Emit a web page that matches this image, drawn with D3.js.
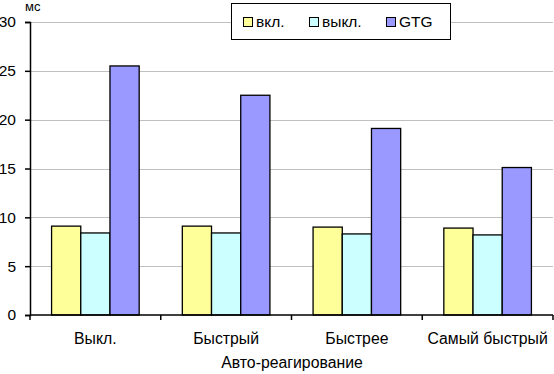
<!DOCTYPE html>
<html>
<head>
<meta charset="utf-8">
<script src="https://cdn.jsdelivr.net/npm/d3@7"></script>
<style>
  body { margin: 0; background: #fff; }
  text { font-family: "Liberation Sans", Arial, sans-serif; fill: #000; }
</style>
</head>
<body>
<div id="chart"></div>
<script>
// data
var categories = ["Выкл.", "Быстрый", "Быстрее", "Самый быстрый"];
var seriesNames = ["вкл.", "выкл.", "GTG"];
var vkl = [9.1, 9.1, 9.0, 8.9];
var vykl = [8.4, 8.4, 8.3, 8.2];
var gtg = [25.5, 22.5, 19.1, 15.1];
var yTicks = [0, 5, 10, 15, 20, 25, 30];
var colors = ["#ffff99", "#ccffff", "#9999ff"];

var svgWidth = 554, svgHeight = 374;
var margin = {top: 22, right: 1, bottom: 59, left: 30};
var width = svgWidth - margin.left - margin.right;
var height = svgHeight - margin.top - margin.bottom;

var svg = d3.select("#chart").append("svg").attr("width", svgWidth).attr("height", svgHeight);
var chartGroup = svg.append("g").attr("transform", `translate(${margin.left},${margin.top})`);

var x0 = d3.scaleBand().domain(categories).range([0, width]).padding(0);
var inner = x0.bandwidth() * 0.165;
var x1 = d3.scaleBand().domain(seriesNames).range([inner, x0.bandwidth() - inner]).padding(0);
var y = d3.scaleLinear().domain([0, 30]).range([height, 0]);

// gridlines
chartGroup.selectAll(".grid").data(yTicks.slice(1)).enter().append("line")
  .attr("x1", 0).attr("x2", width)
  .attr("y1", d => Math.round(y(d)) + 0.5).attr("y2", d => Math.round(y(d)) + 0.5)
  .attr("stroke", "#c0c0c0").attr("stroke-width", 1);

// bars
var rows = categories.map((c, i) => ({cat: c, vals: [vkl[i], vykl[i], gtg[i]]}));
var groups = chartGroup.selectAll(".grp").data(rows).enter().append("g")
  .attr("transform", d => `translate(${x0(d.cat)},0)`);
groups.selectAll("rect").data(d => d.vals.map((v, j) => ({name: seriesNames[j], v: v, j: j})))
  .enter().append("rect")
  .attr("x", d => x1(d.name))
  .attr("y", d => y(d.v))
  .attr("width", x1.bandwidth())
  .attr("height", d => height - y(d.v))
  .attr("fill", d => colors[d.j])
  .attr("stroke", "#000").attr("stroke-width", 1.3);

// y axis
var leftAxis = d3.axisLeft(y).tickValues(yTicks).tickSize(5).tickPadding(9);
var gy = chartGroup.append("g").call(leftAxis);
gy.select(".domain").attr("stroke", "#000").attr("stroke-width", 1.5);
gy.selectAll(".tick line").attr("stroke", "#000").attr("stroke-width", 1.5);
gy.selectAll("text").attr("font-size", "15.5px").attr("font-family", "Liberation Sans, Arial, sans-serif").attr("fill", "#000");

// x axis
var gx = chartGroup.append("g").attr("transform", `translate(0,${height})`);
gx.append("line").attr("x1", 0).attr("x2", width).attr("y1", 0).attr("y2", 0)
  .attr("stroke", "#000").attr("stroke-width", 1.5);
var bounds = categories.map(c => x0(c)).concat([width]);
gx.selectAll(".tk").data(bounds).enter().append("line")
  .attr("x1", d => d).attr("x2", d => d).attr("y1", 0).attr("y2", 5)
  .attr("stroke", "#000").attr("stroke-width", 1.5);
gx.selectAll(".lbl").data(categories).enter().append("text")
  .attr("x", d => x0(d) + x0.bandwidth() / 2)
  .attr("y", 29)
  .attr("text-anchor", "middle")
  .attr("font-size", "15.8px")
  .text(d => d);

// axis titles
svg.append("text").attr("x", 292).attr("y", 368).attr("text-anchor", "middle")
  .attr("font-size", "15.8px").text("Авто-реагирование");
svg.append("text").attr("x", 25).attr("y", 11)
  .attr("font-size", "13px").text("мс");

// legend
var legend = svg.append("g").attr("transform", "translate(231,3)");
legend.append("rect").attr("x", 0.5).attr("y", 0.5).attr("width", 219).attr("height", 36)
  .attr("fill", "#fff").attr("stroke", "#000").attr("stroke-width", 1);
var legX = [12, 78, 155];
seriesNames.forEach(function(n, i) {
  legend.append("rect").attr("x", legX[i] + 0.5).attr("y", 14.5).attr("width", 9).attr("height", 9)
    .attr("fill", colors[i]).attr("stroke", "#000").attr("stroke-width", 1);
  legend.append("text").attr("x", legX[i] + 13).attr("y", 23.5)
    .attr("font-size", "15.5px").text(n);
});
</script>
</body>
</html>
